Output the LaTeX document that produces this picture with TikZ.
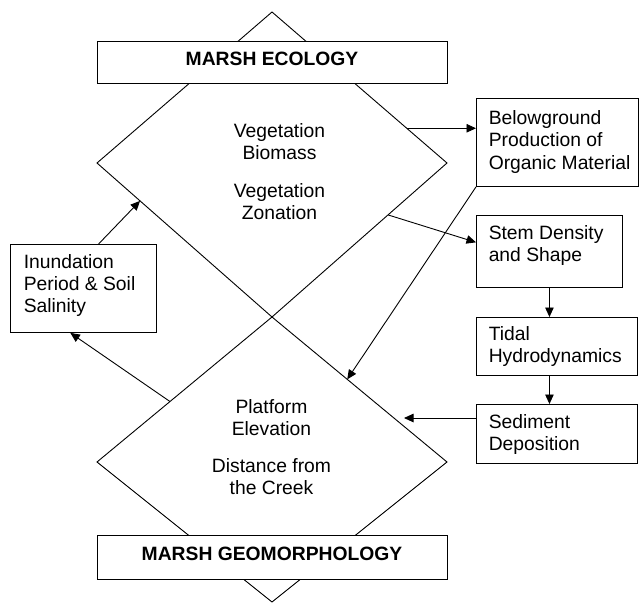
\documentclass[tikz,border=0pt]{standalone}
\usepackage{fontspec}
\setmainfont{Liberation Sans}
\usetikzlibrary{arrows.meta,calc}
\begin{document}
\begin{tikzpicture}[x=1pt,y=-1pt,
  line width=0.9pt,
  txt/.style={font=\fontsize{19.3}{22}\selectfont, inner sep=0pt, align=left, anchor=base west},
  ctxt/.style={font=\fontsize{19.3}{22}\selectfont, inner sep=0pt, align=center, anchor=base},
  btxt/.style={font=\fontsize{19.3}{22}\selectfont\bfseries, inner sep=0pt, anchor=base},
  box/.style={draw, fill=white, rectangle, inner sep=0pt, anchor=north west},
  arr/.style={-{Triangle[length=9.5pt,width=8.5pt]}}]
\useasboundingbox (0,0) rectangle (639,604);
% diamonds
\coordinate (T1) at (272,12);
\coordinate (L1) at (97,163);
\coordinate (R1) at (447,163);
\coordinate (C) at (272,317);
\coordinate (L2) at (97,462);
\coordinate (R2) at (447,462);
\coordinate (B2) at (272,602);
\draw (T1) -- (R1) -- (C) -- (L1) -- cycle;
\draw (C) -- (R2) -- (B2) -- (L2) -- cycle;
% boxes
\node[box, minimum width=350, minimum height=42] (eco) at (97,41) {};
\node[box, minimum width=350, minimum height=44] (geo) at (97,535) {};
\node[box, minimum width=162, minimum height=88] (below) at (476,98) {};
\node[box, minimum width=146, minimum height=72] (stem) at (476,215) {};
\node[box, minimum width=161, minimum height=58] (tidal) at (476,317) {};
\node[box, minimum width=161, minimum height=59] (sed) at (476,404) {};
\node[box, minimum width=146, minimum height=88] (inund) at (10,244) {};
% texts (base anchor = baseline of the last line)
\node[btxt] (ecot) at (272,66) {MARSH ECOLOGY};
\node[btxt] (geot) at (272,560) {MARSH GEOMORPHOLOGY};
\node[ctxt] (vegt) at (279.5,219.3) {Vegetation\\Biomass\\[16pt]Vegetation\\Zonation};
\node[ctxt] (platt) at (271.5,494.5) {Platform\\Elevation\\[15pt]Distance from\\the Creek};
\node[txt] (belowt) at (488.3,169) {Belowground\\Production of\\Organic Material};
\node[txt] (stemt) at (488.3,261.5) {Stem Density\\and Shape};
\node[txt] (tidalt) at (488.3,362.7) {Tidal\\Hydrodynamics};
\node[txt] (sedt) at (488.3,450.5) {Sediment\\Deposition};
\node[txt] (inundt) at (23.3,312) {Inundation\\Period \& Soil\\Salinity};
% arrows
\coordinate (a1) at ($(T1)!0.77!(R1)$);
\draw[arr] (a1) -- (a1 -| below.west);
\coordinate (a2) at ($(R1)!0.337!(C)$);
\coordinate (a2e) at ($(stem.north west)!0.375!(stem.south west)$);
\draw[arr] (a2) -- (a2e);
\draw[arr] (stem.south) -- (stem.south |- tidal.north);
\draw[arr] (stem.south |- tidal.south) -- (stem.south |- sed.north);
\coordinate (a5) at (404,418);
\draw[arr] (a5 -| sed.west) -- (a5);
\coordinate (a6) at ($(C)!0.43!(R2)$);
\draw[arr] (below.south west) -- (a6);
\coordinate (a7) at ($(C)!0.583!(L2)$);
\coordinate (a7e) at ($(inund.south west)!0.411!(inund.south east)$);
\draw[arr] (a7) -- (a7e);
\coordinate (a8s) at ($(inund.north west)!0.603!(inund.north east)$);
\coordinate (a8) at ($(L1)!0.246!(C)$);
\draw[arr] (a8s) -- (a8);
\end{tikzpicture}
\end{document}
